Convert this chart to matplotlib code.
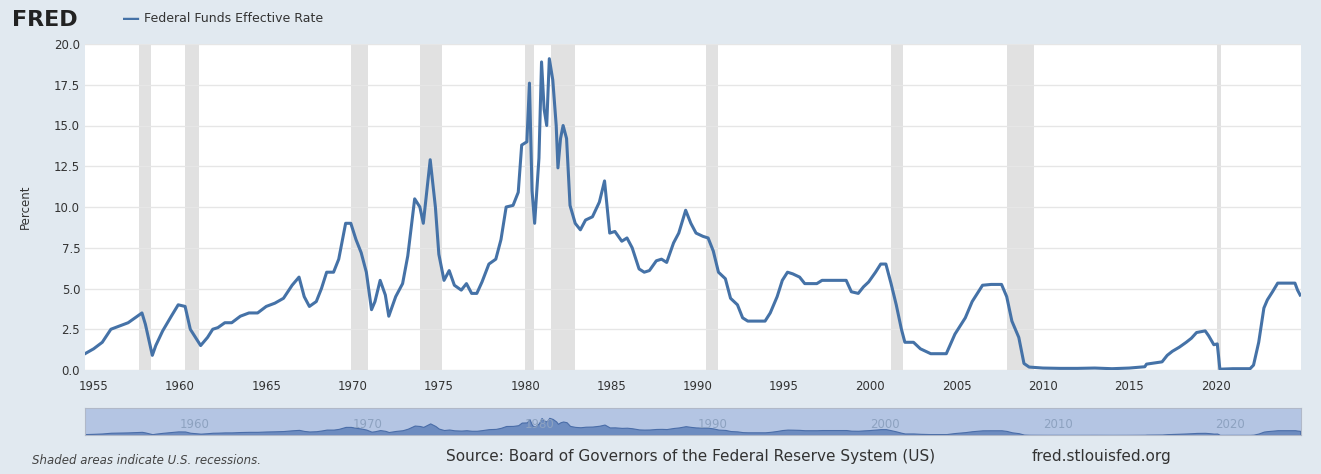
import matplotlib
matplotlib.use("Agg")
import matplotlib.pyplot as plt

years = [1954.5, 1955.0, 1955.5, 1956.0, 1956.5, 1957.0, 1957.8, 1958.0, 1958.4, 1958.6, 1959.0, 1959.5,
         1959.9, 1960.3, 1960.6, 1960.9, 1961.2, 1961.6, 1961.9, 1962.2, 1962.6, 1963.0, 1963.5, 1964.0,
         1964.5, 1965.0, 1965.5, 1966.0, 1966.5, 1966.9, 1967.2, 1967.5, 1967.9, 1968.2, 1968.5, 1968.9,
         1969.2, 1969.6, 1969.9, 1970.2, 1970.5, 1970.8, 1971.1, 1971.3, 1971.6, 1971.9, 1972.1, 1972.5,
         1972.9, 1973.2, 1973.6, 1973.9, 1974.1, 1974.5, 1974.8, 1975.0, 1975.3, 1975.6, 1975.9, 1976.3,
         1976.6, 1976.9, 1977.2, 1977.5, 1977.9, 1978.3, 1978.6, 1978.9, 1979.3, 1979.6, 1979.8, 1980.1,
         1980.25, 1980.4, 1980.55, 1980.8, 1980.95, 1981.1, 1981.25, 1981.4, 1981.6, 1981.8, 1981.9,
         1982.05, 1982.2, 1982.4, 1982.6, 1982.9, 1983.2, 1983.5, 1983.9, 1984.3, 1984.6, 1984.9, 1985.2,
         1985.6, 1985.9, 1986.2, 1986.6, 1986.9, 1987.2, 1987.6, 1987.9, 1988.2, 1988.6, 1988.9, 1989.3,
         1989.6, 1989.9, 1990.3, 1990.6, 1990.9, 1991.2, 1991.6, 1991.9, 1992.3, 1992.6, 1992.9, 1993.5,
         1993.9, 1994.2, 1994.6, 1994.9, 1995.2, 1995.5, 1995.9, 1996.2, 1996.6, 1996.9, 1997.2, 1997.6,
         1998.0, 1998.6, 1998.9, 1999.3, 1999.6, 1999.9, 2000.3, 2000.6, 2000.9, 2001.2, 2001.5, 2001.8,
         2002.0, 2002.5, 2002.9, 2003.5, 2004.4, 2004.9, 2005.5, 2005.9, 2006.5, 2007.0, 2007.6, 2007.9,
         2008.2, 2008.6, 2008.9, 2009.2, 2010.0, 2011.0, 2012.0, 2013.0, 2014.0, 2015.0, 2015.9, 2016.0,
         2016.9, 2017.2, 2017.5, 2017.9, 2018.3, 2018.6, 2018.9, 2019.4, 2019.6, 2019.9, 2020.1, 2020.25,
         2021.0, 2022.0, 2022.2, 2022.5, 2022.8, 2023.0, 2023.3, 2023.6, 2024.6, 2024.75, 2024.9]
rate = [1.0, 1.3, 1.7, 2.5, 2.7, 2.9, 3.5, 2.8, 0.9, 1.5, 2.4, 3.3,
        4.0, 3.9, 2.5, 2.0, 1.5, 2.0, 2.5, 2.6, 2.9, 2.9, 3.3, 3.5,
        3.5, 3.9, 4.1, 4.4, 5.2, 5.7, 4.5, 3.9, 4.2, 5.0, 6.0, 6.0,
        6.8, 9.0, 9.0, 8.0, 7.2, 6.0, 3.7, 4.2, 5.5, 4.6, 3.3, 4.5,
        5.3, 7.0, 10.5, 10.0, 9.0, 12.9, 10.0, 7.1, 5.5, 6.1, 5.2, 4.9,
        5.3, 4.7, 4.7, 5.4, 6.5, 6.8, 8.0, 10.0, 10.1, 10.9, 13.8, 14.0,
        17.6, 11.0, 9.0, 13.0, 18.9, 16.0, 15.0, 19.1, 17.8, 15.0, 12.4,
        14.2, 15.0, 14.2, 10.1, 9.0, 8.6, 9.2, 9.4, 10.3, 11.6, 8.4, 8.5,
        7.9, 8.1, 7.5, 6.2, 6.0, 6.1, 6.7, 6.8, 6.6, 7.8, 8.4, 9.8,
        9.0, 8.4, 8.2, 8.1, 7.3, 6.0, 5.6, 4.4, 4.0, 3.2, 3.0, 3.0,
        3.0, 3.5, 4.5, 5.5, 6.0, 5.9, 5.7, 5.3, 5.3, 5.3, 5.5, 5.5,
        5.5, 5.5, 4.8, 4.7, 5.1, 5.4, 6.0, 6.5, 6.5, 5.3, 4.0, 2.5,
        1.7, 1.7, 1.3, 1.0, 1.0, 2.2, 3.2, 4.2, 5.2, 5.25, 5.25, 4.5,
        3.0, 2.0, 0.4, 0.18, 0.12, 0.1, 0.1, 0.12, 0.08, 0.12, 0.2, 0.36,
        0.5, 0.9, 1.15, 1.4, 1.7, 1.95, 2.3, 2.4, 2.1, 1.55, 1.6, 0.05,
        0.08, 0.08, 0.3, 1.7, 3.8, 4.3, 4.8, 5.33, 5.33, 4.9, 4.6]

recessions = [(1957.6, 1958.3), (1960.3, 1961.1), (1969.9, 1970.9), (1973.9, 1975.2),
              (1980.0, 1980.5), (1981.5, 1982.9), (1990.5, 1991.2), (2001.2, 2001.9),
              (2007.9, 2009.5), (2020.1, 2020.3)]

BG = "#e1e9f0"
LINE = "#4572a7"
W, H = 1321, 474
fig = plt.figure(figsize=(W / 100, H / 100), dpi=100, facecolor=BG)

ax = fig.add_axes([85 / W, 1 - 370 / H, (1301 - 85) / W, (370 - 44) / H])
ax.set_facecolor("white")
for a, b in recessions:
    ax.axvspan(a, b, color="#e1e1e1", lw=0, zorder=1)
ax.plot(years, rate, color=LINE, lw=2.2, zorder=3)
ax.set_xlim(1954.5, 2024.95)
ax.set_ylim(0, 20)
ax.set_yticks([0, 2.5, 5, 7.5, 10, 12.5, 15, 17.5, 20])
ax.set_yticklabels([f"{v:.1f}" for v in ax.get_yticks()])
ax.set_xticks(range(1955, 2021, 5))
ax.grid(axis="y", color="#e6e6e6", lw=1, zorder=0)
for s in ax.spines.values():
    s.set_visible(False)
ax.tick_params(axis="both", length=0, labelsize=8.5, colors="#333333")
ax.tick_params(axis="x", pad=7)
ax.set_ylabel("Percent", fontsize=8.5, color="#333333", labelpad=16)

# navigator
nav = fig.add_axes([85 / W, 1 - 435 / H, (1301 - 85) / W, 27 / H])
nav.set_facecolor("#b4c5e3")
nav.fill_between(years, rate, color="#6d8cc0", lw=0.8, edgecolor="#4a6da8")
nav.set_xlim(1954.5, 2024.95)
nav.set_ylim(0, 30)
nav.set_xticks(range(1960, 2021, 10))
nav.tick_params(axis="x", direction="in", pad=-12, length=0, labelsize=8.5, colors="#8da2c0")
nav.set_yticks([])
for lbl in nav.get_xticklabels():
    lbl.set_horizontalalignment("left")
for s in nav.spines.values():
    s.set_color("#b0b8c8")

fig.text(12 / W, 1 - 20 / H, "FRED", fontsize=16, fontweight="bold", color="#222222", va="center")
fig.text(122 / W, 1 - 19 / H, "\u2014", fontsize=13, color=LINE, va="center", fontweight="bold")
fig.text(144 / W, 1 - 19 / H, "Federal Funds Effective Rate", fontsize=9, color="#333333", va="center")
fig.text(32 / W, 1 - 461 / H, "Shaded areas indicate U.S. recessions.", fontsize=8.5, style="italic",
         color="#444444", va="center")
fig.text(446 / W, 1 - 457 / H, "Source: Board of Governors of the Federal Reserve System (US)",
         fontsize=11, color="#333333", va="center")
fig.text(1032 / W, 1 - 457 / H, "fred.stlouisfed.org", fontsize=11, color="#333333", va="center")

fig.savefig("out.png", dpi=100, facecolor=BG)
